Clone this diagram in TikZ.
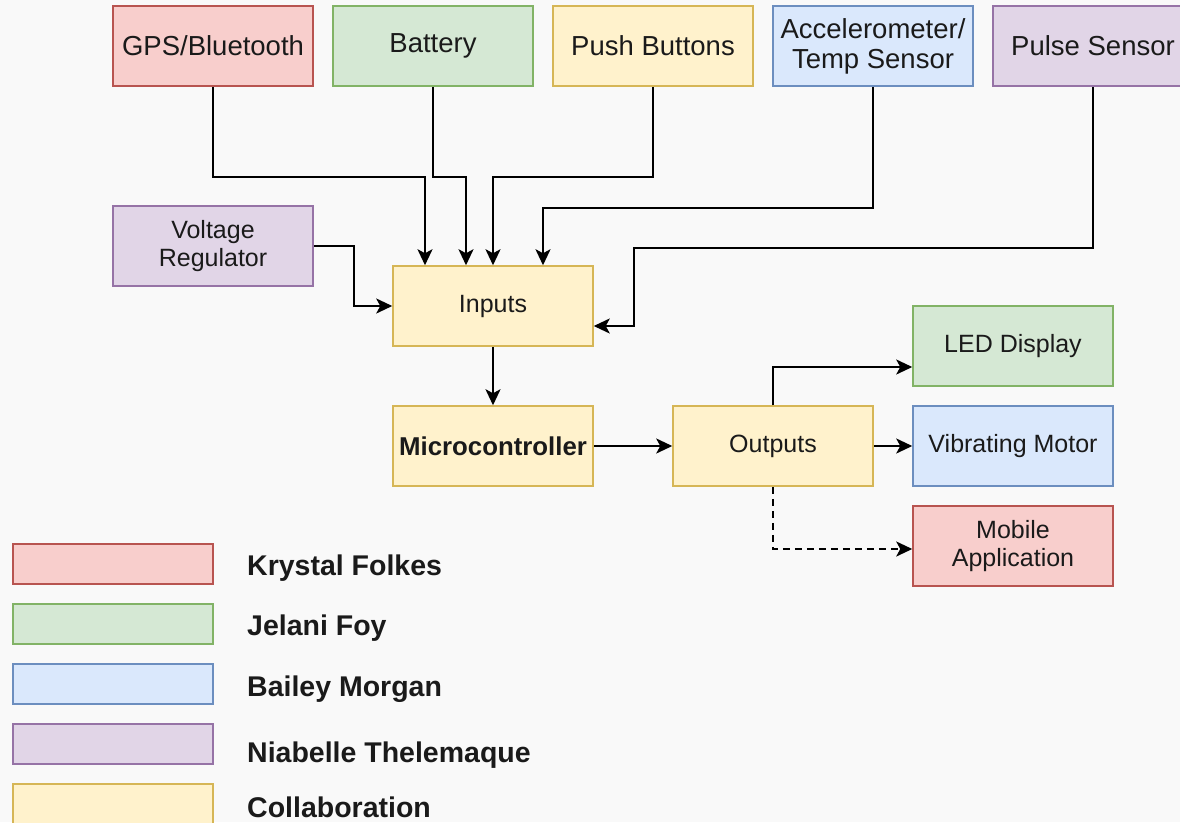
\documentclass[tikz,border=0pt]{standalone}
\usepackage{fontspec}
\setmainfont{Liberation Sans}
\usetikzlibrary{arrows.meta,calc}
\definecolor{redf}{HTML}{F8CECC}\definecolor{redd}{HTML}{B85450}
\definecolor{grnf}{HTML}{D5E8D4}\definecolor{grnd}{HTML}{82B366}
\definecolor{bluf}{HTML}{DAE8FC}\definecolor{blud}{HTML}{6C8EBF}
\definecolor{purf}{HTML}{E1D5E7}\definecolor{purd}{HTML}{9673A6}
\definecolor{yelf}{HTML}{FFF2CC}\definecolor{yeld}{HTML}{D6B656}
\definecolor{bgc}{HTML}{F9F9F9}
\definecolor{txt}{HTML}{1A1A1A}
\tikzset{
  blk/.style={draw, line width=1.5pt, minimum width=200pt, minimum height=80pt, inner sep=0pt, align=center, text=txt, font=\fontsize{25}{28}\selectfont},
  topf/.style={font=\fontsize{27.5}{30}\selectfont},
  rb/.style={blk, fill=redf, draw=redd},
  gb/.style={blk, fill=grnf, draw=grnd},
  bb/.style={blk, fill=bluf, draw=blud},
  pb/.style={blk, fill=purf, draw=purd},
  yb/.style={blk, fill=yelf, draw=yeld},
  legbox/.style={minimum height=40pt},
  leglabel/.style={anchor=base west, inner sep=0pt, text=txt, font=\bfseries\fontsize{28.5}{31}\selectfont},
  arr/.style={draw=black, line width=2.2pt, -{Stealth[length=16pt,width=15pt,inset=4pt]}},
}
\begin{document}
\begin{tikzpicture}[x=1pt,y=-1pt]
\clip (0,0) rectangle (1180,822);
\fill[bgc] (0,0) rectangle (1180,822);
% top row
\node[rb, topf] (gps) at (213,46) {GPS/Bluetooth};
\node[gb, topf] (bat) at (433,46) {Battery};
\node[yb, topf] (push) at (653,46) {Push Buttons};
\node[bb, topf] (acc) at (873,46) {Accelerometer/\\Temp Sensor};
\node[pb, topf] (pulse) at (1093,46) {Pulse Sensor};
% middle
\node[pb] (volt) at (213,246) {Voltage\\Regulator};
\node[yb] (inputs) at (493,306) {Inputs};
\node[yb, font=\bfseries\fontsize{25.8}{28}\selectfont] (micro) at (493,446) {Microcontroller};
\node[yb] (outputs) at (773,446) {Outputs};
\node[gb] (led) at (1013,346) {LED Display};
\node[bb] (vib) at (1013,446) {Vibrating Motor};
\node[rb] (mob) at (1013,546) {Mobile\\Application};
% connectors
\draw[arr] (gps.south) -- ++(0,90) -| ([xshift=-68pt]inputs.north);
\draw[arr] (bat.south) -- ++(0,90) -| ([xshift=-27pt]inputs.north);
\draw[arr] (push.south) -- ++(0,90) -| (inputs.north);
\draw[arr] (acc.south) -- ++(0,121) -| ([xshift=50pt]inputs.north);
\draw[arr] (pulse.south) -- ++(0,161) -| ([xshift=40pt,yshift=-20pt]inputs.east) -- ([yshift=-20pt]inputs.east);
\draw[arr] (volt.east) -- ++(40,0) |- (inputs.west);
\draw[arr] (inputs.south) -- (micro.north);
\draw[arr] (micro.east) -- (outputs.west);
\draw[arr] (outputs.north) |- ([yshift=-21pt]led.west);
\draw[arr] (outputs.east) -- (vib.west);
\draw[arr, dash pattern=on 7pt off 5pt] (outputs.south) |- ([yshift=-3pt]mob.west);
% legend
\node[rb, legbox] (l1) at (113,564) {};
\node[gb, legbox] (l2) at (113,624) {};
\node[bb, legbox] (l3) at (113,684) {};
\node[pb, legbox] (l4) at (113,744) {};
\node[yb, legbox] (l5) at (113,804) {};
\node[leglabel] (t1) at (247,575) {Krystal Folkes};
\node[leglabel] (t2) at (247,635) {Jelani Foy};
\node[leglabel] (t3) at (247,696) {Bailey Morgan};
\node[leglabel] (t4) at (247,762) {Niabelle Thelemaque};
\node[leglabel] (t5) at (247,817) {Collaboration};
\end{tikzpicture}
\end{document}
